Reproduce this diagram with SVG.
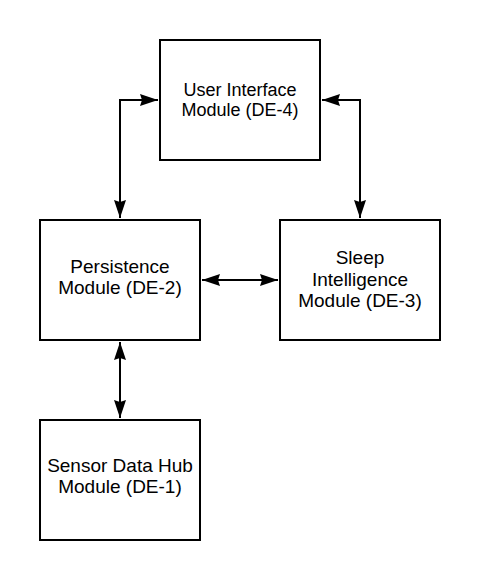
<svg xmlns="http://www.w3.org/2000/svg" width="480" height="580" viewBox="0 0 480 580">
<style>
.box{fill:#fff;stroke:#000;stroke-width:2}
.lbl{font-family:"Liberation Sans",Arial,sans-serif;font-size:19px;fill:#000;text-anchor:middle}
.sm{font-size:18px}
.conn{fill:none;stroke:#000;stroke-width:2}
</style>
<defs>
<marker id="ah" markerUnits="userSpaceOnUse" markerWidth="18" markerHeight="13" refX="18" refY="6.5" orient="auto-start-reverse" viewBox="0 0 18 13">
<path d="M0,0.5 L18,6.5 L0,12.5 L2,6.5 Z" fill="#000"/>
</marker>
</defs>
<rect width="480" height="580" fill="#fff"/>
<g id="connectors">
<path class="conn" d="M158,100 H120 V218" marker-start="url(#ah)" marker-end="url(#ah)"/>
<path class="conn" d="M322,100 H360 V218" marker-start="url(#ah)" marker-end="url(#ah)"/>
<path class="conn" d="M202,280 H278" marker-start="url(#ah)" marker-end="url(#ah)"/>
<path class="conn" d="M120,342 V418" marker-start="url(#ah)" marker-end="url(#ah)"/>
</g>
<g id="ui">
<rect class="box" x="160" y="40" width="160" height="120"/>
<text class="lbl sm" x="240" y="96">User Interface</text>
<text class="lbl sm" x="240" y="115.5">Module (DE-4)</text>
</g>
<g id="persistence">
<rect class="box" x="40" y="220" width="160" height="120"/>
<text class="lbl" x="120" y="273">Persistence</text>
<text class="lbl" x="120" y="294">Module (DE-2)</text>
</g>
<g id="sleep">
<rect class="box" x="280" y="220" width="160" height="120"/>
<text class="lbl" x="360" y="264">Sleep</text>
<text class="lbl" x="360" y="286">Intelligence</text>
<text class="lbl" x="360" y="307">Module (DE-3)</text>
</g>
<g id="sensor">
<rect class="box" x="40" y="420" width="160" height="120"/>
<text class="lbl" x="120" y="472">Sensor Data Hub</text>
<text class="lbl" x="120" y="493">Module (DE-1)</text>
</g>
</svg>
